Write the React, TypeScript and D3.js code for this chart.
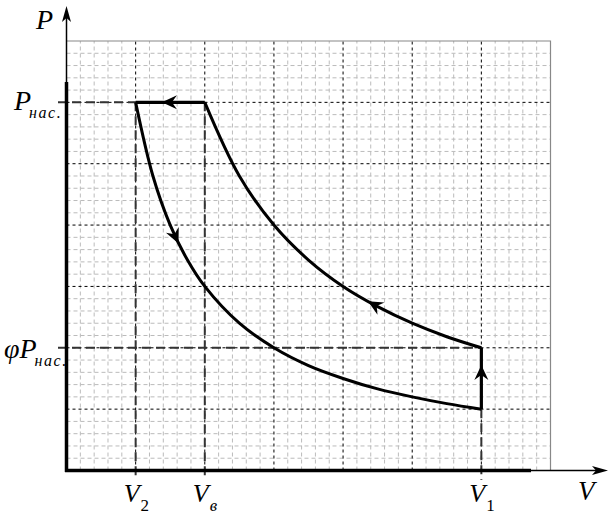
import React, { useEffect, useRef } from 'react';
import * as d3 from 'd3';

const svgWidth = 612;
const svgHeight = 519;

// значения на осях (в клетках сетки)
const vTicks = [
  { v: 1, label: 'V', sub: '2' },
  { v: 2, label: 'V', sub: 'в' },
  { v: 6, label: 'V', sub: '1' },
];
const pTicks = [
  { p: 6, label: 'P', pre: '', sub: 'нас.' },
  { p: 2, label: 'P', pre: 'φ', sub: 'нас.' },
];

// изобара конденсации: P_нас от Vв до V2
const topLine: [number, number][] = [
  [2, 6],
  [1, 6],
];
// нижняя изотерма V2 -> V1
const lowerCurve: [number, number][] = [
  [1, 6], [1.25, 4.8], [1.5, 4], [1.75, 3.43], [2, 3], [2.5, 2.4], [3, 2],
  [3.5, 1.71], [4, 1.5], [4.5, 1.33], [5, 1.2], [5.5, 1.09], [6, 1],
];
// изохора V1
const rightLine: [number, number][] = [
  [6, 1],
  [6, 2],
];
// верхняя изотерма V1 -> Vв
const upperCurve: [number, number][] = [
  [6, 2], [5.5, 2.18], [5, 2.4], [4.5, 2.67], [4, 3], [3.5, 3.43], [3, 4],
  [2.5, 4.8], [2, 6],
];
// стрелки: [откуда, куда]
const arrows: [number, number][][] = [
  [[1.5, 6], [1.38, 6]],
  [[1.5, 4], [1.62, 3.7]],
  [[4.5, 2.67], [4.36, 2.76]],
  [[6, 1.5], [6, 1.72]],
];

const App: React.FC = () => {
  const svgRef = useRef<SVGSVGElement | null>(null);

  useEffect(() => {
    const svg = d3.select(svgRef.current);
    svg.selectAll('*').remove();

    const x = d3.scaleLinear().domain([0, 7]).range([66.5, 550.5]);
    const y = d3.scaleLinear().domain([0, 7]).range([470.5, 41]);

    const g = svg.append('g');

    // мелкая сетка
    const minor = d3.range(1, 35).map((d) => d / 5).filter((d) => Math.abs(d - Math.round(d)) > 0.01);
    g.selectAll('.vminor')
      .data(minor)
      .enter()
      .append('line')
      .attr('x1', (d) => x(d))
      .attr('x2', (d) => x(d))
      .attr('y1', y(0))
      .attr('y2', y(7))
      .attr('stroke', '#bbb')
      .attr('stroke-dasharray', '4,3');
    g.selectAll('.hminor')
      .data(minor)
      .enter()
      .append('line')
      .attr('y1', (d) => y(d))
      .attr('y2', (d) => y(d))
      .attr('x1', x(0))
      .attr('x2', x(7))
      .attr('stroke', '#bbb')
      .attr('stroke-dasharray', '4,3');

    // основная сетка
    const major = d3.range(1, 7);
    g.selectAll('.vmajor')
      .data(major)
      .enter()
      .append('line')
      .attr('x1', (d) => x(d))
      .attr('x2', (d) => x(d))
      .attr('y1', y(0))
      .attr('y2', y(7))
      .attr('stroke', '#000')
      .attr('stroke-dasharray', '3,3');
    g.selectAll('.hmajor')
      .data(major)
      .enter()
      .append('line')
      .attr('y1', (d) => y(d))
      .attr('y2', (d) => y(d))
      .attr('x1', x(0))
      .attr('x2', x(7))
      .attr('stroke', '#000')
      .attr('stroke-dasharray', '3,3');

    // рамка
    g.append('path')
      .attr('d', `M${x(0)},${y(7)}H${x(7)}V${y(0)}`)
      .attr('fill', 'none')
      .attr('stroke', '#888')
      .attr('stroke-width', 1.2);

    // пунктирные выноски
    g.selectAll('.hdash')
      .data(pTicks)
      .enter()
      .append('line')
      .attr('x1', 58)
      .attr('x2', (d) => (d.p === 6 ? x(1) : x(6)))
      .attr('y1', (d) => y(d.p))
      .attr('y2', (d) => y(d.p))
      .attr('stroke', '#333')
      .attr('stroke-width', 2)
      .attr('stroke-dasharray', '9,5');
    g.selectAll('.vdash')
      .data(vTicks)
      .enter()
      .append('line')
      .attr('x1', (d) => x(d.v))
      .attr('x2', (d) => x(d.v))
      .attr('y1', (d) => (d.v === 6 ? y(1) : y(6)))
      .attr('y2', 480)
      .attr('stroke', '#333')
      .attr('stroke-width', 2)
      .attr('stroke-dasharray', '9,5');

    // оси
    g.append('line')
      .attr('x1', x(0)).attr('x2', x(0))
      .attr('y1', y(0) + 1.5).attr('y2', 82)
      .attr('stroke', '#000').attr('stroke-width', 3.5);
    g.append('line')
      .attr('x1', x(0)).attr('x2', x(0))
      .attr('y1', 82).attr('y2', 14)
      .attr('stroke', '#000').attr('stroke-width', 1.5);
    g.append('path')
      .attr('d', `M${x(0)},6L${x(0) + 4.5},22L${x(0)},18L${x(0) - 4.5},22Z`)
      .attr('fill', '#000');
    g.append('line')
      .attr('x1', x(0) - 1.5).attr('x2', 531)
      .attr('y1', y(0)).attr('y2', y(0))
      .attr('stroke', '#000').attr('stroke-width', 3.5);
    g.append('line')
      .attr('x1', 531).attr('x2', 600)
      .attr('y1', y(0)).attr('y2', y(0))
      .attr('stroke', '#000').attr('stroke-width', 1.5);
    g.append('path')
      .attr('d', `M608,${y(0)}L592,${y(0) - 4.5}L596,${y(0)}L592,${y(0) + 4.5}Z`)
      .attr('fill', '#000');

    // цикл
    const straight = d3.line<[number, number]>().x((d) => x(d[0])).y((d) => y(d[1]));
    const smooth = d3
      .line<[number, number]>()
      .x((d) => x(d[0]))
      .y((d) => y(d[1]))
      .curve(d3.curveCatmullRom.alpha(0.5));
    [topLine, rightLine].forEach((data) => {
      g.append('path')
        .attr('d', straight(data))
        .attr('fill', 'none')
        .attr('stroke', '#000')
        .attr('stroke-width', 3.2);
    });
    [lowerCurve, upperCurve].forEach((data) => {
      g.append('path')
        .attr('d', smooth(data))
        .attr('fill', 'none')
        .attr('stroke', '#000')
        .attr('stroke-width', 3);
    });

    // стрелки на кривых
    arrows.forEach(([a, b]) => {
      const x0 = x(a[0]);
      const y0 = y(a[1]);
      const x1 = x(b[0]);
      const y1 = y(b[1]);
      const ang = (Math.atan2(y1 - y0, x1 - x0) * 180) / Math.PI;
      g.append('path')
        .attr('d', 'M0,0L-15,-7L-10,0L-15,7Z')
        .attr('transform', `translate(${x1},${y1}) rotate(${ang})`)
        .attr('fill', '#000');
    });

    // подписи
    const font = "'Liberation Serif', 'Times New Roman', serif";
    svg.append('text')
      .attr('x', 36).attr('y', 29)
      .attr('font-family', font).attr('font-style', 'italic').attr('font-size', 28)
      .text('P');

    pTicks.forEach((d) => {
      const t = svg.append('text')
        .attr('x', d.pre ? 4 : 14)
        .attr('y', y(d.p) + (d.pre ? 10 : 8))
        .attr('font-family', font)
        .attr('font-style', 'italic')
        .attr('font-size', 28);
      t.append('tspan').text(d.pre + d.label);
      t.append('tspan')
        .attr('font-size', 16)
        .attr('letter-spacing', 1.5)
        .attr('dx', -2)
        .attr('dy', 8)
        .text(d.sub);
    });

    vTicks.forEach((d) => {
      const t = svg.append('text')
        .attr('x', x(d.v) - 12)
        .attr('y', 502)
        .attr('font-family', font)
        .attr('font-style', 'italic')
        .attr('font-size', 26);
      t.append('tspan').text(d.label);
      t.append('tspan')
        .attr('font-size', 17)
        .attr('font-style', d.sub === 'в' ? 'italic' : 'normal')
        .attr('dx', 1)
        .attr('dy', 9)
        .text(d.sub);
    });

    svg.append('text')
      .attr('x', 578).attr('y', 500)
      .attr('font-family', font).attr('font-style', 'italic').attr('font-size', 27)
      .text('V');
  }, []);

  return (
    <svg
      width={svgWidth}
      height={svgHeight}
      ref={svgRef}
      style={{ position: 'absolute', left: 0, top: 0, background: '#fff' }}
    ></svg>
  );
};

export default App;
